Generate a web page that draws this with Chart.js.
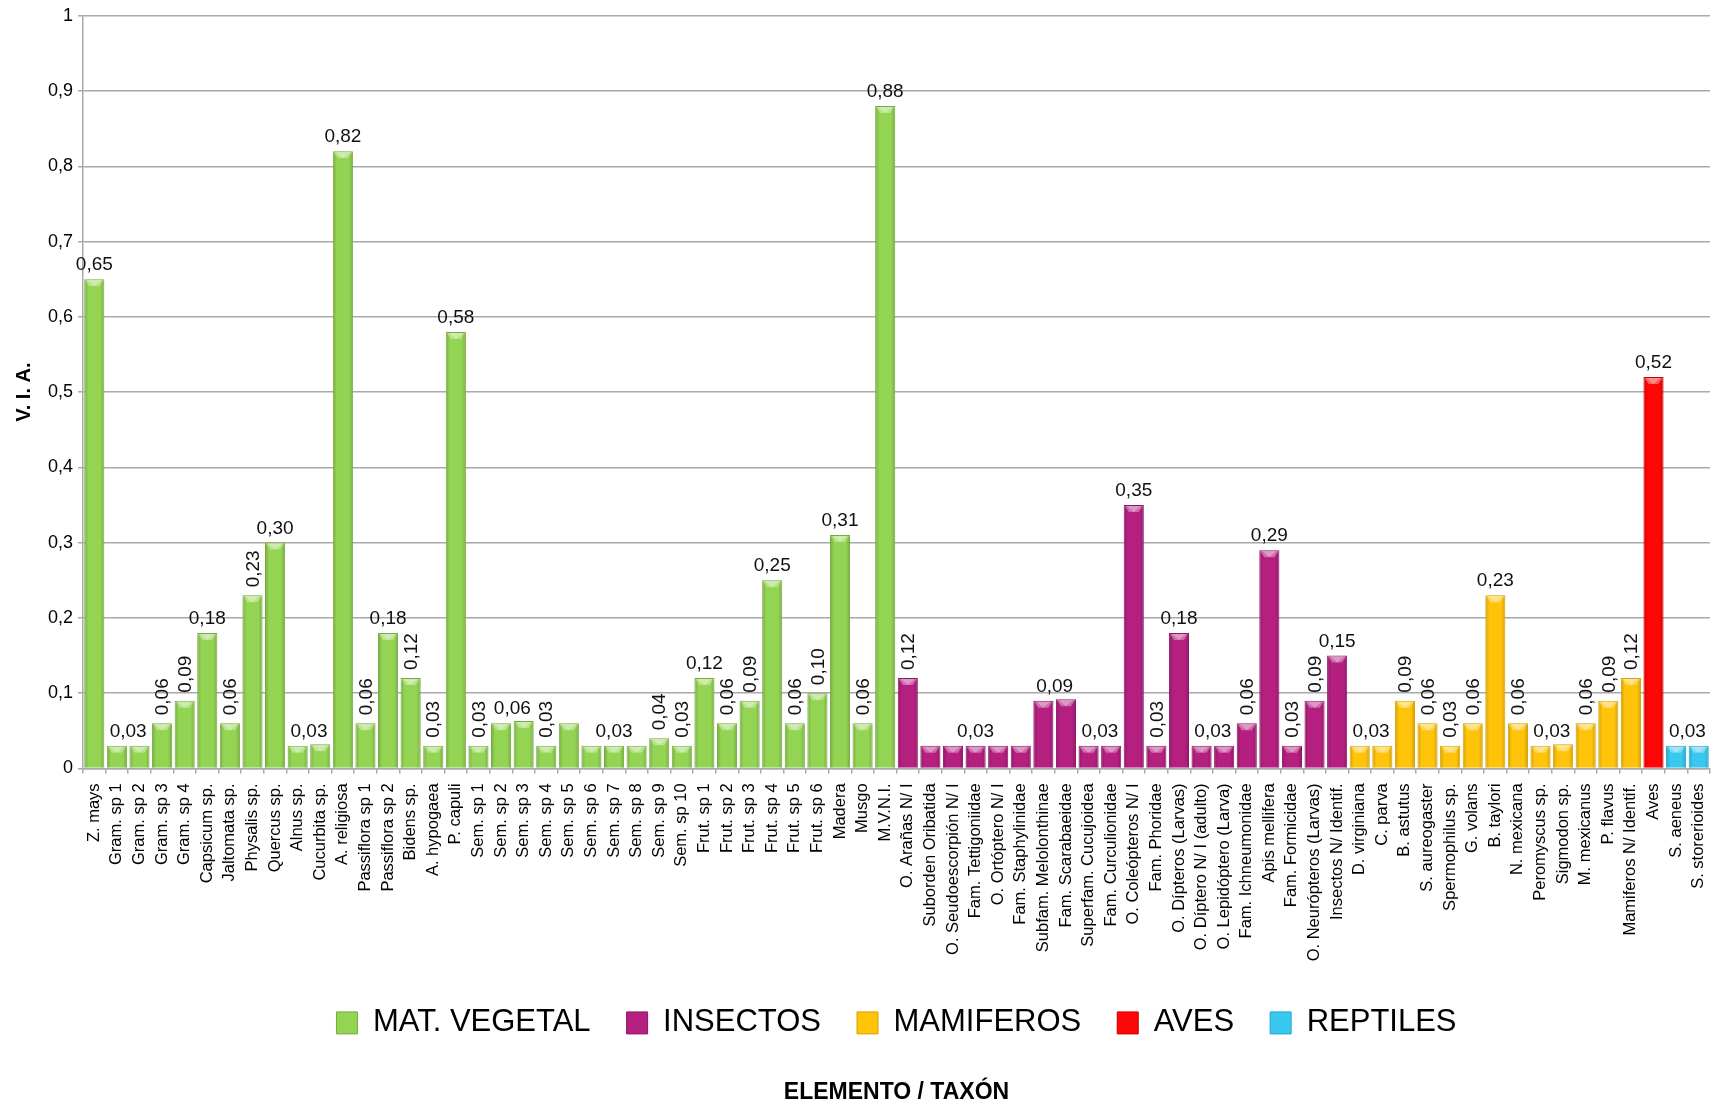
<!DOCTYPE html>
<html>
<head>
<meta charset="utf-8">
<script src="https://cdn.jsdelivr.net/npm/chart.js@4.4.1/dist/chart.umd.min.js"></script>
<style>
  html, body { margin: 0; padding: 0; background: #ffffff; }
  canvas { display: block; }
</style>
</head>
<body>
<canvas id="via" width="1722" height="1106"></canvas>
<script>
// Food items (elemento / taxón) on the x axis
const categories = [
  'Z. mays', 'Gram. sp 1', 'Gram. sp 2', 'Gram. sp 3', 'Gram. sp 4', 'Capsicum sp.', 'Jaltomata sp.',
  'Physalis sp.', 'Quercus sp.', 'Alnus sp.', 'Cucurbita sp.', 'A. religiosa', 'Passiflora sp 1',
  'Passiflora sp 2', 'Bidens sp.', 'A. hypogaea', 'P. capuli', 'Sem. sp 1', 'Sem. sp 2', 'Sem. sp 3',
  'Sem. sp 4', 'Sem. sp 5', 'Sem. sp 6', 'Sem. sp 7', 'Sem. sp 8', 'Sem. sp 9', 'Sem. sp 10',
  'Frut. sp 1', 'Frut. sp 2', 'Frut. sp 3', 'Frut. sp 4', 'Frut. sp 5', 'Frut. sp 6', 'Madera', 'Musgo',
  'M.V.N.I.',
  'O. Arañas N/ I', 'Suborden Oribatida', 'O. Seudoescorpión N/ I', 'Fam. Tettigoniidae',
  'O. Ortóptero N/ I', 'Fam. Staphylinidae', 'Subfam. Melolonthinae', 'Fam. Scarabaeidae',
  'Superfam. Cucujoidea', 'Fam. Curculionidae', 'O. Coleópteros N/ I', 'Fam. Phoridae',
  'O. Dípteros (Larvas)', 'O. Díptero N/ I (adulto)', 'O. Lepidóptero (Larva)', 'Fam. Ichneumonidae',
  'Apis mellifera', 'Fam. Formicidae', 'O. Neurópteros (Larvas)', 'Insectos N/ Identif.',
  'D. virginiana', 'C. parva', 'B. astutus', 'S. aureogaster', 'Spermophilus sp.', 'G. volans',
  'B. taylori', 'N. mexicana', 'Peromyscus sp.', 'Sigmodon sp.', 'M. mexicanus', 'P. flavus',
  'Mamiferos N/ Identif.',
  'Aves',
  'S. aeneus', 'S. storerioides'
];

// V.I.A. value of each item
const values = [
  0.65, 0.03, 0.03, 0.06, 0.09, 0.18, 0.06,
  0.23, 0.30, 0.03, 0.032, 0.82, 0.06,
  0.18, 0.12, 0.03, 0.58, 0.03, 0.06, 0.063,
  0.03, 0.06, 0.03, 0.03, 0.03, 0.04, 0.03,
  0.12, 0.06, 0.09, 0.25, 0.06, 0.10, 0.31, 0.06,
  0.88,
  0.12, 0.03, 0.03, 0.03,
  0.03, 0.03, 0.09, 0.092,
  0.03, 0.03, 0.35, 0.03,
  0.18, 0.03, 0.03, 0.06,
  0.29, 0.03, 0.09, 0.15,
  0.03, 0.03, 0.09, 0.06, 0.03, 0.06,
  0.23, 0.06, 0.03, 0.032, 0.06, 0.09,
  0.12,
  0.52,
  0.03, 0.03
];

// Group of each item (index into seriesNames)
const groupIndex = [
  0, 0, 0, 0, 0, 0, 0, 0, 0, 0, 0, 0, 0, 0, 0, 0, 0, 0, 0, 0, 0, 0, 0, 0, 0, 0, 0, 0, 0, 0, 0, 0, 0, 0, 0, 0,
  1, 1, 1, 1, 1, 1, 1, 1, 1, 1, 1, 1, 1, 1, 1, 1, 1, 1, 1, 1,
  2, 2, 2, 2, 2, 2, 2, 2, 2, 2, 2, 2, 2,
  3,
  4, 4
];

const seriesNames = ['MAT. VEGETAL', 'INSECTOS', 'MAMIFEROS', 'AVES', 'REPTILES'];
const seriesColors = ['#94d453', '#b41f80', '#ffc40a', '#ff0505', '#38c8f0'];
const seriesEdges = ['#76ab3e', '#8c1763', '#d9a300', '#c80000', '#25a3c6'];

// Value label per bar: 'h' horizontal, 'v' rotated, 'm' horizontal centred between this bar and the next, '' none
const labelStyle = [
  'h', 'm', '', 'v', 'v', 'h', 'v', 'v', 'h', 'm', '', 'h', 'v', 'h', 'v', 'v', 'h', 'v', 'm', '',
  'v', '', '', 'h', '', 'v', 'v', 'h', 'v', 'v', 'h', 'v', 'v', 'h', 'v', 'h',
  'v', '', '', 'h', '', '', 'm', '', 'm', '', 'h', 'v', 'h', 'm', '', 'v', 'h', 'v', 'v', 'h',
  'm', '', 'v', 'v', 'v', 'v', 'h', 'v', 'm', '', 'v', 'v', 'v',
  'h',
  'm', ''
];

const yTickLabels = ['0', '0,1', '0,2', '0,3', '0,4', '0,5', '0,6', '0,7', '0,8', '0,9', '1'];
const yTitle = 'V. I. A.';
const xTitle = 'ELEMENTO / TAXÓN';

const SANS = '"Liberation Sans", Arial, sans-serif';
const NARROW = '"Liberation Sans Narrow", "Arial Narrow", "Liberation Sans", sans-serif';
const GRID = '#a9a9a9';

const datasets = seriesNames.map((name, s) => ({
  label: name,
  data: values.map((v, i) => (groupIndex[i] === s ? v : null)),
  backgroundColor: seriesColors[s],
  borderColor: seriesEdges[s],
  borderWidth: 1,
  grouped: false,
  barPercentage: 0.89,
  categoryPercentage: 1.0
}));

// Bevelled look on each bar: darker side edges and a lit top facet
const bevelPlugin = {
  id: 'bevel',
  afterDatasetsDraw(chart) {
    const ctx = chart.ctx;
    chart.data.datasets.forEach((ds, di) => {
      const meta = chart.getDatasetMeta(di);
      meta.data.forEach((bar, i) => {
        if (ds.data[i] == null) return;
        const { x, y, base, width } = bar.getProps(['x', 'y', 'base', 'width'], true);
        const x0 = x - width / 2, x1 = x + width / 2, h = base - y;
        ctx.save();
        const g = ctx.createLinearGradient(x0, 0, x1, 0);
        g.addColorStop(0, 'rgba(0,0,0,0.20)');
        g.addColorStop(0.2, 'rgba(0,0,0,0)');
        g.addColorStop(0.8, 'rgba(0,0,0,0)');
        g.addColorStop(1, 'rgba(0,0,0,0.20)');
        ctx.fillStyle = g;
        ctx.fillRect(x0 + 1, y + 1, width - 2, h - 1);
        const b = Math.min(7, h - 1);
        ctx.beginPath();
        ctx.moveTo(x0 + 1, y + 1);
        ctx.lineTo(x1 - 1, y + 1);
        ctx.lineTo(x1 - 1 - b * 0.6, y + b);
        ctx.lineTo(x0 + 1 + b * 0.6, y + b);
        ctx.closePath();
        ctx.fillStyle = 'rgba(255,255,255,0.35)';
        ctx.fill();
        ctx.beginPath();
        ctx.moveTo(x0 + 3, y + 1);
        ctx.lineTo(x1 - 3, y + 1);
        ctx.lineTo(x, y + b);
        ctx.closePath();
        ctx.fillStyle = 'rgba(255,255,255,0.3)';
        ctx.fill();
        ctx.restore();
      });
    });
  }
};

// Value labels above the bars
const valueLabelPlugin = {
  id: 'valueLabels',
  afterDatasetsDraw(chart) {
    const ctx = chart.ctx;
    ctx.save();
    ctx.font = '19px ' + SANS;
    ctx.fillStyle = '#111111';
    values.forEach((v, i) => {
      const mode = labelStyle[i];
      if (!mode) return;
      const bar = chart.getDatasetMeta(groupIndex[i]).data[i];
      const text = v.toFixed(2).replace('.', ',');
      let x = bar.x;
      if (mode === 'm') {
        const next = chart.getDatasetMeta(groupIndex[i + 1]).data[i + 1];
        x = (bar.x + next.x) / 2;
      }
      if (mode === 'v') {
        ctx.save();
        ctx.translate(x, bar.y - 8);
        ctx.rotate(-Math.PI / 2);
        ctx.textAlign = 'left';
        ctx.textBaseline = 'middle';
        ctx.fillText(text, 0, 1);
        ctx.restore();
      } else {
        ctx.textAlign = 'center';
        ctx.textBaseline = 'alphabetic';
        ctx.fillText(text, x, bar.y - 9);
      }
    });
    ctx.restore();
  }
};

new Chart(document.getElementById('via'), {
  type: 'bar',
  data: { labels: categories, datasets },
  plugins: [bevelPlugin, valueLabelPlugin],
  options: {
    responsive: false,
    animation: false,
    layout: { padding: { left: 0, right: 12, top: 12, bottom: 0 } },
    scales: {
      x: {
        offset: true,
        grid: { offset: true, drawOnChartArea: false, drawTicks: true, tickLength: 5, color: GRID, lineWidth: 1.5 },
        border: { color: GRID, width: 1.5 },
        ticks: {
          autoSkip: false, maxRotation: 90, minRotation: 90, padding: 10,
          color: '#000000', font: { family: SANS, size: 16.5 }
        },
        afterFit(scale) {
          scale.height = 203;
          scale.paddingLeft = 0;
          scale.paddingRight = 0;
        }
      },
      y: {
        min: 0, max: 1,
        ticks: {
          stepSize: 0.1, padding: 5, color: '#000000', font: { family: SANS, size: 18 },
          callback: (v, i) => yTickLabels[i]
        },
        grid: { color: GRID, lineWidth: 1.5, tickLength: 5 },
        border: { color: GRID, width: 1.5 },
        title: {
          display: true, text: yTitle, color: '#000000',
          font: { family: SANS, size: 20, weight: 'bold' }, padding: { top: 12, bottom: 0 }
        },
        afterFit(scale) { scale.width = 83; }
      }
    },
    plugins: {
      legend: {
        position: 'bottom',
        fullSize: false,
        labels: {
          boxWidth: 21, boxHeight: 22, padding: 36, color: '#000000',
          font: { family: NARROW, size: 31 }
        }
      },
      title: {
        display: true, text: xTitle, position: 'bottom', fullSize: false, color: '#000000',
        font: { family: NARROW, size: 23, weight: 'bold' }, padding: { top: 30, bottom: 0 }
      },
      tooltip: { enabled: false }
    }
  }
});
</script>
</body>
</html>
